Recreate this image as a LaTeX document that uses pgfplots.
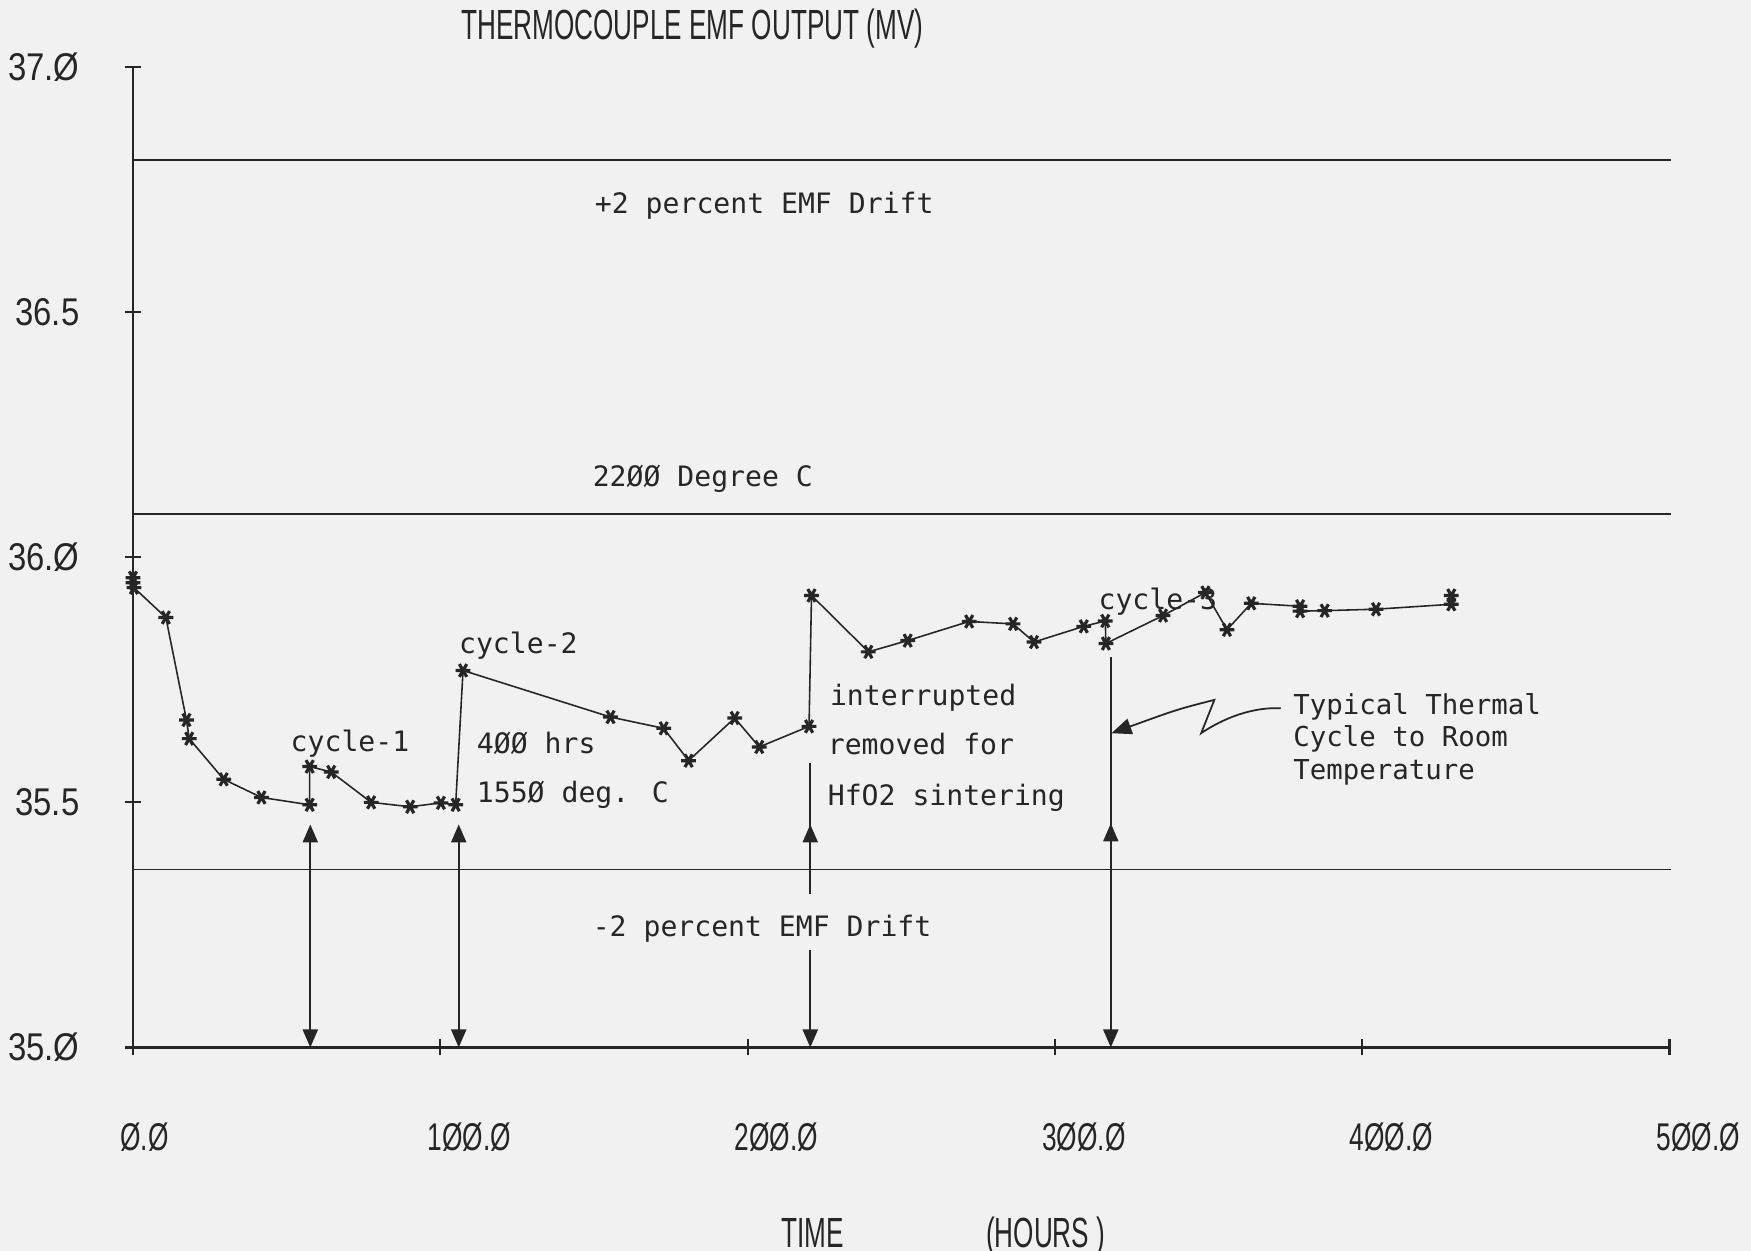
\documentclass[border=0pt]{standalone}
\usepackage{fontspec}
\usepackage{pgfplots}
\pgfplotsset{compat=1.18}
\usetikzlibrary{arrows.meta}
\newfontfamily\condfont[FakeStretch=0.62]{Liberation Sans}
\newfontfamily\tickfont[FakeStretch=0.85]{Liberation Sans}
\newfontfamily\xtickfont[FakeStretch=0.68]{Liberation Sans}
\newfontfamily\monofont{DejaVu Sans Mono}
\definecolor{ink}{gray}{0.15}
\definecolor{paper}{gray}{0.945}
\begin{document}
\begin{tikzpicture}
\fill[paper] (-13.3mm,-20.35mm) rectangle (161.8mm,104.75mm);
\useasboundingbox (-13.3mm,-20.35mm) rectangle (161.8mm,104.75mm);
\begin{axis}[
  scale only axis, width=153.65mm, height=98.05mm,
  xmin=0, xmax=500, ymin=35, ymax=37,
  axis x line=bottom, axis y line=left,
  axis line style={-, ink, line width=0.6pt},
  tick align=center, major tick length=1.6mm,
  tick style={ink, line width=0.6pt},
  xtick={0,100,200,300,400,500},
  xticklabels={Ø.Ø,1ØØ.Ø,2ØØ.Ø,3ØØ.Ø,4ØØ.Ø,5ØØ.Ø},
  ytick={35,35.5,36,36.5,37},
  yticklabels={35.Ø,35.5,36.Ø,36.5,37.Ø},
  yticklabel style={font=\tickfont\fontsize{11}{13}\selectfont, text=ink, anchor=east, inner sep=0pt, xshift=-4.5mm},
  xticklabel style={font=\xtickfont\fontsize{11}{13}\selectfont, text=ink, anchor=north west, inner sep=0pt, xshift=-1.34mm, yshift=-6.7mm},
  clip=false,
]
% reference lines
\addplot[ink, line width=0.5pt] coordinates {(0,36.81) (500.5,36.81)};
\addplot[ink, line width=0.5pt] coordinates {(0,36.088) (500.5,36.088)};
\addplot[ink, line width=0.5pt] coordinates {(0,35.363) (500.5,35.363)};
% data
\addplot[ink, line width=0.45pt, mark=asterisk, mark size=2.1pt,
  mark options={rotate=90, line width=0.9pt}] coordinates {
(0,35.958) (0,35.948) (0.3,35.938)
(10.7,35.877) (17.4,35.668) (18.3,35.630) (29.5,35.547) (41.8,35.510)
(57.5,35.495) (57.5,35.573) (64.5,35.562) (77.5,35.500) (90.2,35.491)
(100.2,35.499) (105.0,35.495) (107.4,35.769) (155.4,35.674) (172.7,35.651)
(180.8,35.585) (195.8,35.672) (203.8,35.613) (220.0,35.655) (220.8,35.922)
(239.3,35.807) (252.1,35.830) (272.1,35.869) (286.4,35.864) (293.2,35.827)
(309.4,35.859) (316.4,35.870) (316.6,35.824) (335.2,35.881) (349.0,35.928)
(356.0,35.852) (363.9,35.906) (379.8,35.900) (379.8,35.890) (387.8,35.891)
(404.5,35.894) (429.0,35.904) (429.0,35.922)
};
% cycle arrows
\draw[ink, line width=0.6pt, {Triangle[length=1.8mm,width=1.5mm]}-{Triangle[length=1.8mm,width=1.5mm]}] (axis cs:57.7,35.0) -- (axis cs:57.7,35.455);
\draw[ink, line width=0.6pt, {Triangle[length=1.8mm,width=1.5mm]}-{Triangle[length=1.8mm,width=1.5mm]}] (axis cs:106.0,35.0) -- (axis cs:106.0,35.455);
\draw[ink, line width=0.6pt, {Triangle[length=1.8mm,width=1.5mm]}-] (axis cs:220.4,35.0) -- (axis cs:220.4,35.199);
\draw[ink, line width=0.6pt, -{Triangle[length=1.8mm,width=1.5mm]}] (axis cs:220.4,35.314) -- (axis cs:220.4,35.455);
\draw[ink, line width=0.6pt] (axis cs:220.4,35.44) -- (axis cs:220.4,35.58);
\draw[ink, line width=0.6pt, {Triangle[length=1.8mm,width=1.5mm]}-{Triangle[length=1.8mm,width=1.5mm]}] (axis cs:318.2,35.0) -- (axis cs:318.2,35.457);
\draw[ink, line width=0.6pt] (axis cs:318.2,35.44) -- (axis cs:318.2,35.797);
% pointer
\draw[ink, line width=0.5pt, -{Triangle[length=2mm,width=1.6mm]}]
  (axis cs:373.5,35.692) .. controls (axis cs:362,35.695) and (axis cs:352,35.66) .. (axis cs:347.6,35.641)
  -- (axis cs:351.9,35.709) .. controls (axis cs:340,35.69) .. (axis cs:318.4,35.641);
% texts
\tikzset{ann/.style={font=\monofont\fontsize{8}{9.6}\selectfont, text=ink, anchor=base west, inner sep=0pt}}
\node[ann] at (axis cs:150.1,36.702) {+2 percent EMF Drift};
\node[ann] at (axis cs:149.4,36.144) {22ØØ Degree C};
\node[ann] at (axis cs:149.4,35.226) {-2 percent EMF Drift};
\node[ann] at (axis cs:51.1,35.604) {cycle-1};
\node[ann] at (axis cs:105.9,35.804) {cycle-2};
\node[ann] at (axis cs:111.7,35.599) {4ØØ hrs};
\node[ann] at (axis cs:111.7,35.499) {155Ø deg. C};
\node[ann] at (axis cs:226.6,35.697) {interrupted};
\node[ann] at (axis cs:225.9,35.597) {removed for};
\node[ann] at (axis cs:225.9,35.494) {HfO2 sintering};
\node[ann] at (axis cs:314.0,35.893) {cycle-3};
\tikzset{ann2/.style={font=\monofont\fontsize{7.8}{9}\selectfont, text=ink, anchor=base west, inner sep=0pt}}
\node[ann2] at (axis cs:377.4,35.679) {Typical Thermal};
\node[ann2] at (axis cs:377.4,35.613) {Cycle to Room};
\node[ann2] at (axis cs:377.4,35.547) {Temperature};
% titles
\node[font=\condfont\fontsize{12}{14}\selectfont, text=ink, anchor=base, inner sep=0pt] at (axis cs:182.0,37.057) {THERMOCOUPLE EMF OUTPUT (MV)};
\node[font=\condfont\fontsize{12}{14}\selectfont, text=ink, anchor=base west, inner sep=0pt] at (axis cs:210.7,34.592) {TIME};
\node[font=\condfont\fontsize{12}{14}\selectfont, text=ink, anchor=base west, inner sep=0pt] at (axis cs:277.4,34.592) {(HOURS )};
\end{axis}
\end{tikzpicture}
\end{document}
